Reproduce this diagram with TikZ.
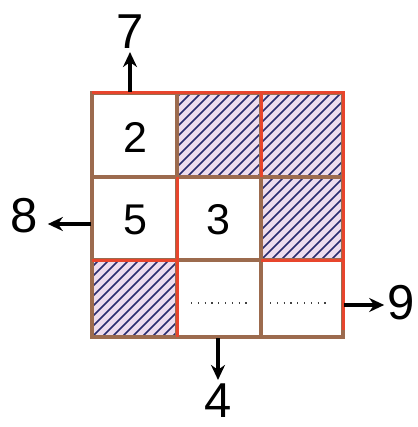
\documentclass[tikz,border=0pt]{standalone}
\usepackage{fontspec}
\setmainfont{Liberation Sans}
\usetikzlibrary{arrows.meta}
\definecolor{gridbrown}{HTML}{9C6B4E}
\definecolor{gridred}{HTML}{E8452C}
\definecolor{hatchbg}{HTML}{EEDDEE}
\definecolor{hatchline}{HTML}{2A2C6E}
\tikzset{
  hatchline/.style={draw=hatchline, line width=1.6pt},
  gridline/.style={draw=gridbrown, line width=3.5pt},
  redline/.style={draw=gridred, line width=3pt},
  celltxt/.style={inner sep=0pt, font=\fontsize{43}{43}\selectfont},
  lbltxt/.style={inner sep=0pt, font=\fontsize{49}{49}\selectfont},
  arr/.style={line width=4pt, -{Stealth[length=15pt,width=14pt]}},
  dots/.style={line width=1.8pt, dash pattern=on 1.2pt off 5.6pt, draw=black!75}
}
\newcommand{\hatchrect}[4]{%
  \fill[hatchbg] (#1,#2) rectangle (#3,#4);
  \begin{scope}
    \clip (#1,#2) rectangle (#3,#4);
    \foreach \k in {-300,-290,...,300} {
      \draw[hatchline] (#1+\k,#4) -- ++(200,-200);
    }
  \end{scope}
}
\begin{document}
\begin{tikzpicture}[x=1pt,y=-1pt]
\useasboundingbox (0,0) rectangle (417,427);
% hatched cells
\hatchrect{177}{93}{343}{177}
\hatchrect{261}{177}{343}{260}
\hatchrect{92}{260}{177}{337}
% grid
\draw[gridline] (92,93) rectangle (343,337);
\draw[gridline] (177,93) -- (177,337);
\draw[gridline] (261,93) -- (261,337);
\draw[gridline] (92,177) -- (343,177);
\draw[gridline] (92,260) -- (343,260);
% red outlines
\draw[redline] (92,93) -- (343,93) -- (343,330);
\draw[redline] (177,177) -- (177,337);
\draw[redline] (92,260) -- (177,260);
\draw[redline] (261,93) -- (261,177);
\draw[redline] (261,260) -- (343,260);
% dotted lines
\coordinate (d1a) at (191,303); \coordinate (d1b) at (250,303);
\coordinate (d2a) at (270,303); \coordinate (d2b) at (330,303);
\draw[dots] (d1a) -- (d1b);
\draw[dots] (d2a) -- (d2b);
% cell numbers
\node[celltxt] (c2) at (135,137) {2};
\node[celltxt] (c5) at (135,220) {5};
\node[celltxt] (c3) at (218,220) {3};
% labels
\node[lbltxt] (l7) at (130,32) {7};
\node[lbltxt] (l8) at (24,216) {8};
\node[lbltxt] (l9) at (401,303) {9};
\node[lbltxt] (l4) at (218,401) {4};
% arrow starts
\coordinate (s7) at (130,92);
\coordinate (s8) at (91,224);
\coordinate (s9) at (344,305);
\coordinate (s4) at (218,338);
\draw[arr, shorten >=3pt] (s7) -- (l7.south);
\draw[arr, shorten >=10pt] (s8) -- (l8.east |- s8);
\draw[arr, shorten >=3pt] (s9) -- (l9.west |- s9);
\draw[arr, shorten >=4pt] (s4) -- (l4.north);
\end{tikzpicture}
\end{document}
